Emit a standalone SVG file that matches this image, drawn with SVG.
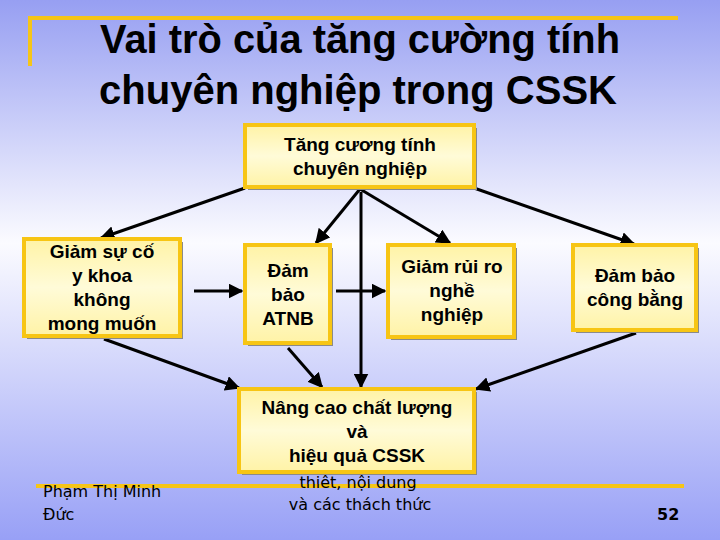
<svg xmlns="http://www.w3.org/2000/svg" width="720" height="540" viewBox="0 0 720 540">
<defs>
<linearGradient id="bg" x1="0" y1="0" x2="0" y2="1">
<stop offset="0" stop-color="#979ff2"/>
<stop offset="0.45" stop-color="#fbfbff"/>
<stop offset="1" stop-color="#98a0f6"/>
</linearGradient>
<linearGradient id="boxfill" x1="0" y1="0" x2="0" y2="1">
<stop offset="0" stop-color="#fff3a6"/>
<stop offset="0.5" stop-color="#fffbd8"/>
<stop offset="1" stop-color="#fff3a6"/>
</linearGradient>
<marker id="arr" viewBox="0 0 10 10" refX="9" refY="5" markerWidth="5" markerHeight="5" orient="auto" markerUnits="strokeWidth">
<path d="M0,0 L10,5 L0,10 z" fill="#000"/>
</marker>
<style>
.box{fill:url(#boxfill);stroke:#f7c514;stroke-width:4}
.sh{fill:#8a8a8a}
.t{font-family:"Liberation Sans",Arial,sans-serif;font-weight:bold;font-size:19px;fill:#000;text-anchor:middle}
.title{font-family:"Liberation Sans",Arial,sans-serif;font-weight:bold;font-size:41px;fill:#000;text-anchor:middle}
.s{font-family:"DejaVu Sans","Liberation Sans",sans-serif;font-size:16px;fill:#000}
.c{stroke:#000;stroke-width:3;fill:none;marker-end:url(#arr)}
.y{stroke:#f5c518;stroke-width:4;fill:none}
</style>
</defs>
<rect width="720" height="540" fill="url(#bg)"/>
<g id="decor">
<path class="y" d="M30,66 V18 H678"/>
<line class="y" x1="36" y1="486" x2="684" y2="486"/>
</g>
<g id="title">
<text class="title" x="360" y="53" textLength="520" lengthAdjust="spacingAndGlyphs">Vai trò của tăng cường tính</text>
<text class="title" x="358" y="104" textLength="518" lengthAdjust="spacingAndGlyphs">chuyên nghiệp trong CSSK</text>
</g>
<g id="connectors">
<line class="c" x1="245" y1="188" x2="101" y2="238"/>
<line class="c" x1="360" y1="189" x2="316" y2="243"/>
<line class="c" x1="360" y1="189" x2="450" y2="243"/>
<line class="c" x1="474" y1="188" x2="634" y2="244"/>
<line class="c" x1="361" y1="192" x2="361" y2="387"/>
<line class="c" x1="194" y1="291" x2="242" y2="291"/>
<line class="c" x1="336" y1="291" x2="385" y2="291"/>
<line class="c" x1="104" y1="339" x2="239" y2="388"/>
<line class="c" x1="288" y1="348" x2="322" y2="387"/>
<line class="c" x1="636" y1="333" x2="476" y2="389"/>
</g>
<g id="n-top">
<rect class="sh" x="248" y="128" width="229" height="62"/>
<rect class="box" x="245" y="125" width="229" height="62"/>
<text class="t" x="360" y="151">Tăng cương tính</text>
<text class="t" x="360" y="175">chuyên nghiệp</text>
</g>
<g id="n-left">
<rect class="sh" x="27" y="242" width="156" height="97"/>
<rect class="box" x="24" y="239" width="156" height="97"/>
<text class="t" x="102" y="258">Giảm sự cố</text>
<text class="t" x="102" y="282">y khoa</text>
<text class="t" x="102" y="306">không</text>
<text class="t" x="102" y="330">mong muốn</text>
</g>
<g id="n-atnb">
<rect class="sh" x="248" y="248" width="85" height="98"/>
<rect class="box" x="245" y="245" width="85" height="98"/>
<text class="t" x="288" y="277">Đảm</text>
<text class="t" x="288" y="301">bảo</text>
<text class="t" x="288" y="325">ATNB</text>
</g>
<g id="n-rui-ro">
<rect class="sh" x="391" y="248" width="126" height="92"/>
<rect class="box" x="388" y="245" width="126" height="92"/>
<text class="t" x="452" y="273">Giảm rủi ro</text>
<text class="t" x="452" y="297">nghề</text>
<text class="t" x="452" y="321">nghiệp</text>
</g>
<g id="n-cong-bang">
<rect class="sh" x="576" y="248" width="123" height="85"/>
<rect class="box" x="573" y="245" width="123" height="85"/>
<text class="t" x="635" y="282">Đảm bảo</text>
<text class="t" x="635" y="306">công bằng</text>
</g>
<g id="n-bottom">
<rect class="sh" x="242" y="392" width="235" height="83"/>
<rect class="box" x="239" y="389" width="235" height="83"/>
<text class="t" x="357" y="414">Nâng cao chất lượng</text>
<text class="t" x="357" y="438">và</text>
<text class="t" x="357" y="462">hiệu quả CSSK</text>
</g>
<g id="footer">
<text class="s" x="358" y="488" text-anchor="middle">thiêt, nội dung</text>
<text class="s" x="360" y="510" text-anchor="middle">và các thách thức</text>
<text class="s" x="43" y="497">Phạm Thị Minh</text>
<text class="s" x="43" y="520">Đức</text>
<text class="s" x="657" y="520" font-weight="bold" font-size="17">52</text>
</g>
</svg>
